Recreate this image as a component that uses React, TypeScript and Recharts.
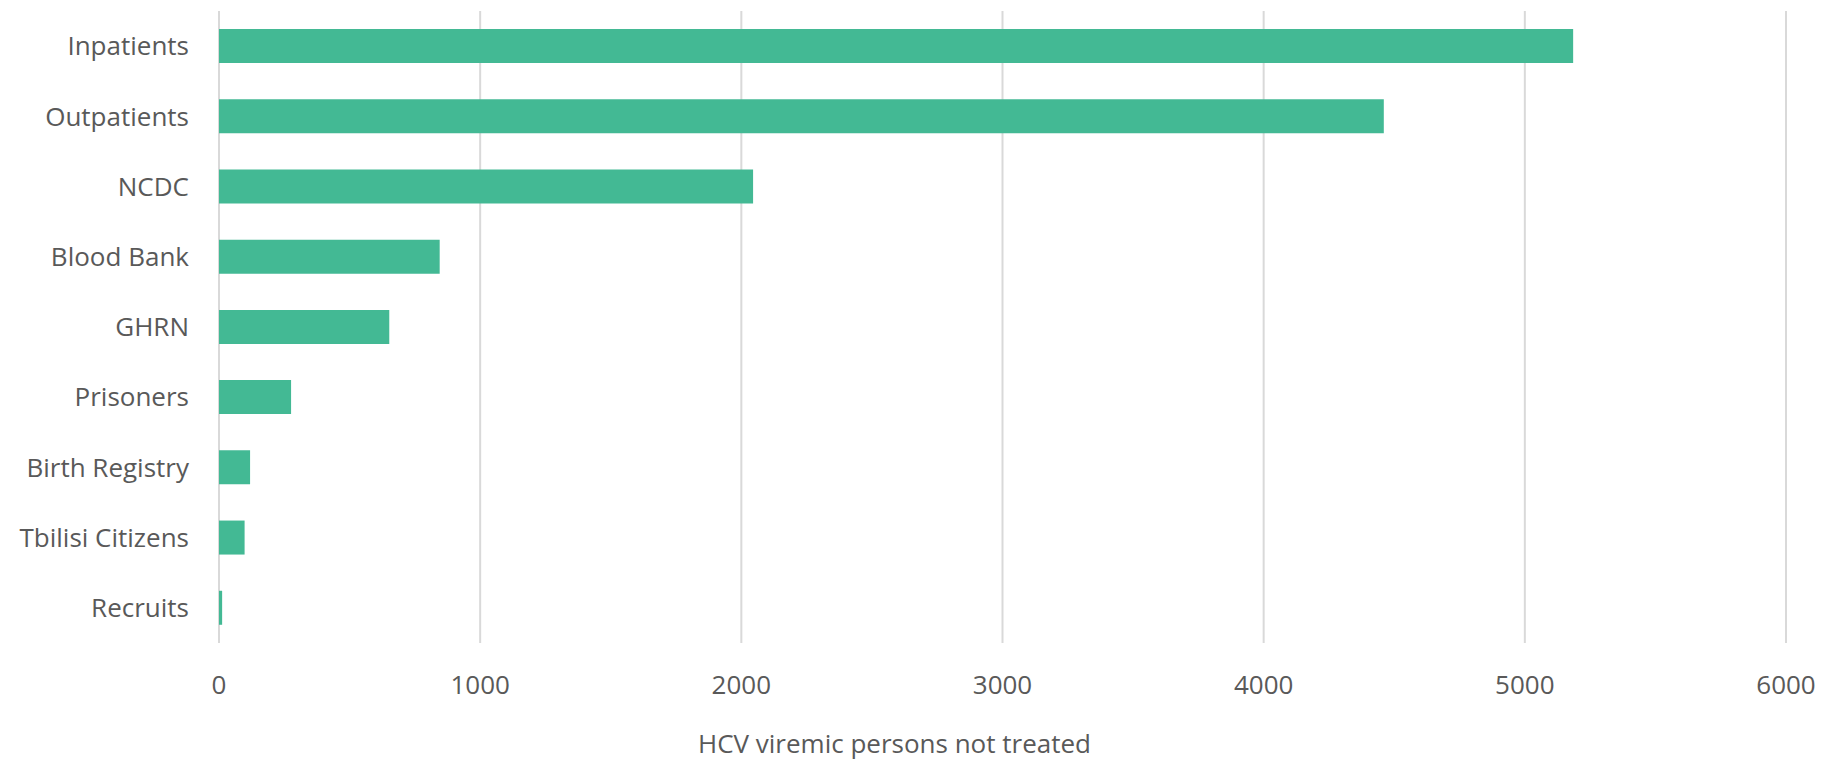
import React from 'react';
import { BarChart, Bar, XAxis, YAxis, CartesianGrid } from 'recharts';

const categories = ['Inpatients', 'Outpatients', 'NCDC', 'Blood Bank', 'GHRN', 'Prisoners', 'Birth Registry', 'Tbilisi Citizens', 'Recruits'];
const notTreated = [5185, 4460, 2045, 845, 652, 276, 119, 98, 12];
const xTicks = [0, 1000, 2000, 3000, 4000, 5000, 6000];
const xTitle = 'HCV viremic persons not treated';

const chartData = categories.map((name, i) => ({ name, value: notTreated[i] }));

const FONT = '"Open Sans", sans-serif';
const TEXT = '#595959';

const App: React.FC = () => {
    return (
        <div style={{ position: 'absolute', left: 0, top: 0, background: '#fff' }}>
            <BarChart
                width={1825}
                height={762}
                data={chartData}
                layout="vertical"
                margin={{ top: 11, right: 39, left: 0, bottom: 0 }}
                barSize={34}
            >
                <CartesianGrid horizontal={false} stroke="#d9d9d9" strokeWidth={2} />
                <XAxis
                    type="number"
                    domain={[0, 6000]}
                    ticks={xTicks}
                    height={119}
                    axisLine={false}
                    tickLine={false}
                    tickSize={0}
                    tickMargin={33}
                    tick={{ fill: TEXT, fontSize: 26, fontFamily: FONT }}
                    label={{ value: xTitle, position: 'insideBottom', offset: 9, dx: -108, fill: TEXT, fontSize: 26, fontFamily: FONT }}
                />
                <YAxis
                    type="category"
                    dataKey="name"
                    width={219}
                    axisLine={false}
                    tickLine={false}
                    tickSize={0}
                    tickMargin={30}
                    interval={0}
                    tick={{ fill: TEXT, fontSize: 26, fontFamily: FONT }}
                />
                <Bar dataKey="value" fill="#43b994" isAnimationActive={false} />
            </BarChart>
        </div>
    );
};

export default App;
